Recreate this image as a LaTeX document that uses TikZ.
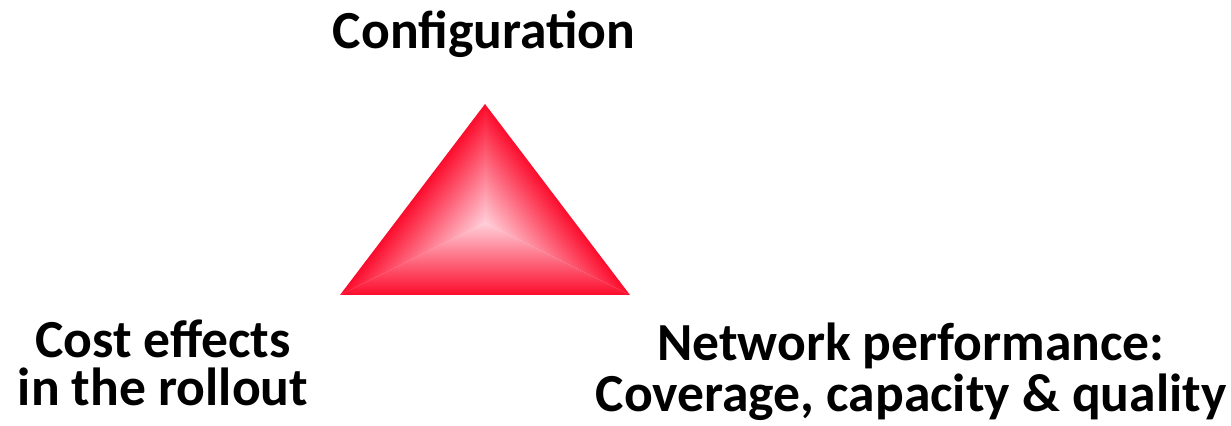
\documentclass[tikz,border=0pt]{standalone}
\usepackage{fontspec}
\setmainfont{Carlito}
\usepackage{tikz}
\usetikzlibrary{positioning}
\definecolor{edgered}{RGB}{252,12,44}
\definecolor{midpink}{RGB}{255,208,218}

\begin{document}
\begin{tikzpicture}[font=\bfseries\fontsize{30.5}{28}\selectfont,
  lbl/.style={align=center,inner sep=0pt,anchor=base}]
  \useasboundingbox (0,0) rectangle (24.62,8.52);
  \coordinate (top) at (9.70,6.44);
  \coordinate (bl) at (6.80,2.62);
  \coordinate (br) at (12.60,2.62);
  \coordinate (c) at (9.70,4.06);
  % three bevelled faces, red at the rim, pink in the middle
  \foreach \a/\p/\q in {0/bl/br,127.2/br/top,-127.2/top/bl}{
    \begin{scope}
      \clip (\p)--(\q)--(c)--cycle;
      \begin{scope}[transform canvas={shift={(9.70,4.06)},rotate=\a}]
        \shade[bottom color=edgered,middle color=edgered!42!midpink,top color=midpink] (-4,-1.44) rectangle (4,0.01);
      \end{scope}
    \end{scope}}
  \node[lbl] (conf) at (9.68,7.54) {Configuration};
  \node[lbl,font=\bfseries\fontsize{30.5}{27.5}\selectfont] (cost) at (3.26,0.41) {Cost effects\\in the rollout};
  \node[lbl,font=\bfseries\fontsize{30.5}{29.5}\selectfont] (perf) at (18.22,0.28) {Network performance:\\Coverage, capacity \& quality};
\end{tikzpicture}
\end{document}
